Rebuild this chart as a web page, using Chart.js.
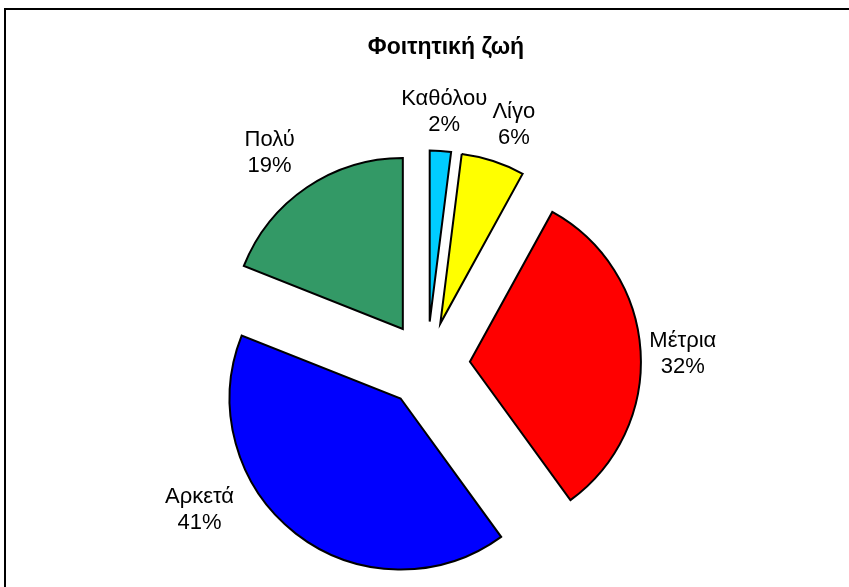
<!DOCTYPE html>
<html>
<head>
<meta charset="utf-8">
<title>Φοιτητική ζωή</title>
<script src="https://cdn.jsdelivr.net/npm/chart.js@4.4.1/dist/chart.umd.min.js"></script>
<style>
  html, body { margin: 0; padding: 0; background: #fff; }
  #wrap { width: 849px; height: 587px; }
</style>
</head>
<body>
<div id="wrap"><canvas id="pie"></canvas></div>
<script>
// data (percent of answers)
const categories = ['Καθόλου', 'Λίγο', 'Μέτρια', 'Αρκετά', 'Πολύ'];
const percents = [2, 6, 32, 41, 19];
const sliceColors = ['#00CCFF', '#FFFF00', '#FF0000', '#0000FF', '#339966'];
const chartTitle = 'Φοιτητική ζωή';

// label placement: extra turn (deg) and distance from pie centre
const labelTurn = [0.3, 1.9, 1.2, 19.6, -2.4];
const labelDist = [253, 255, 256, 270, 264];

const FONT = '"Liberation Sans", Arial, sans-serif';
const EXPLODE = 43;

// pulls every slice out along its bisector
const explodePlugin = {
    id: 'explode',
    beforeDatasetsDraw(chart) {
        const area = chart.chartArea;
        const cx = (area.left + area.right) / 2;
        const cy = (area.top + area.bottom) / 2;
        chart.getDatasetMeta(0).data.forEach(function(arc) {
            const mid = (arc.startAngle + arc.endAngle) / 2;
            arc.x = cx + Math.cos(mid) * EXPLODE;
            arc.y = cy + Math.sin(mid) * EXPLODE;
        });
    }
};

// frame, title and outside labels
const decorPlugin = {
    id: 'decor',
    afterDraw(chart) {
        const ctx = chart.ctx;
        const area = chart.chartArea;
        const cx = (area.left + area.right) / 2;
        const cy = (area.top + area.bottom) / 2;

        ctx.save();
        ctx.strokeStyle = '#000';
        ctx.lineWidth = 2;
        ctx.strokeRect(5, 9, 900, 700);

        ctx.fillStyle = '#000';
        ctx.textAlign = 'center';
        ctx.textBaseline = 'middle';
        ctx.font = 'bold 23px ' + FONT;
        ctx.fillText(chartTitle, 446, 48);

        ctx.font = '22px ' + FONT;
        const lh = 26;
        chart.getDatasetMeta(0).data.forEach(function(arc, i) {
            const mid = (arc.startAngle + arc.endAngle) / 2 + labelTurn[i] * Math.PI / 180;
            const x = cx + Math.cos(mid) * labelDist[i];
            const y = cy + Math.sin(mid) * labelDist[i];
            ctx.fillText(categories[i], x, y - lh / 2);
            ctx.fillText(percents[i] + '%', x, y + lh / 2);
        });
        ctx.restore();
    }
};

new Chart(document.getElementById('pie'), {
    type: 'pie',
    data: {
        labels: categories,
        datasets: [{
            data: percents,
            backgroundColor: sliceColors,
            borderColor: '#000',
            borderWidth: 2,
            borderJoinStyle: 'miter',
            radius: 171
        }]
    },
    options: {
        responsive: true,
        maintainAspectRatio: false,
        animation: false,
        events: [],
        layout: { padding: { left: 5, right: 0, top: 142, bottom: 0 } },
        plugins: {
            legend: { display: false },
            title: { display: false },
            tooltip: { enabled: false }
        }
    },
    plugins: [explodePlugin, decorPlugin]
});
</script>
</body>
</html>
